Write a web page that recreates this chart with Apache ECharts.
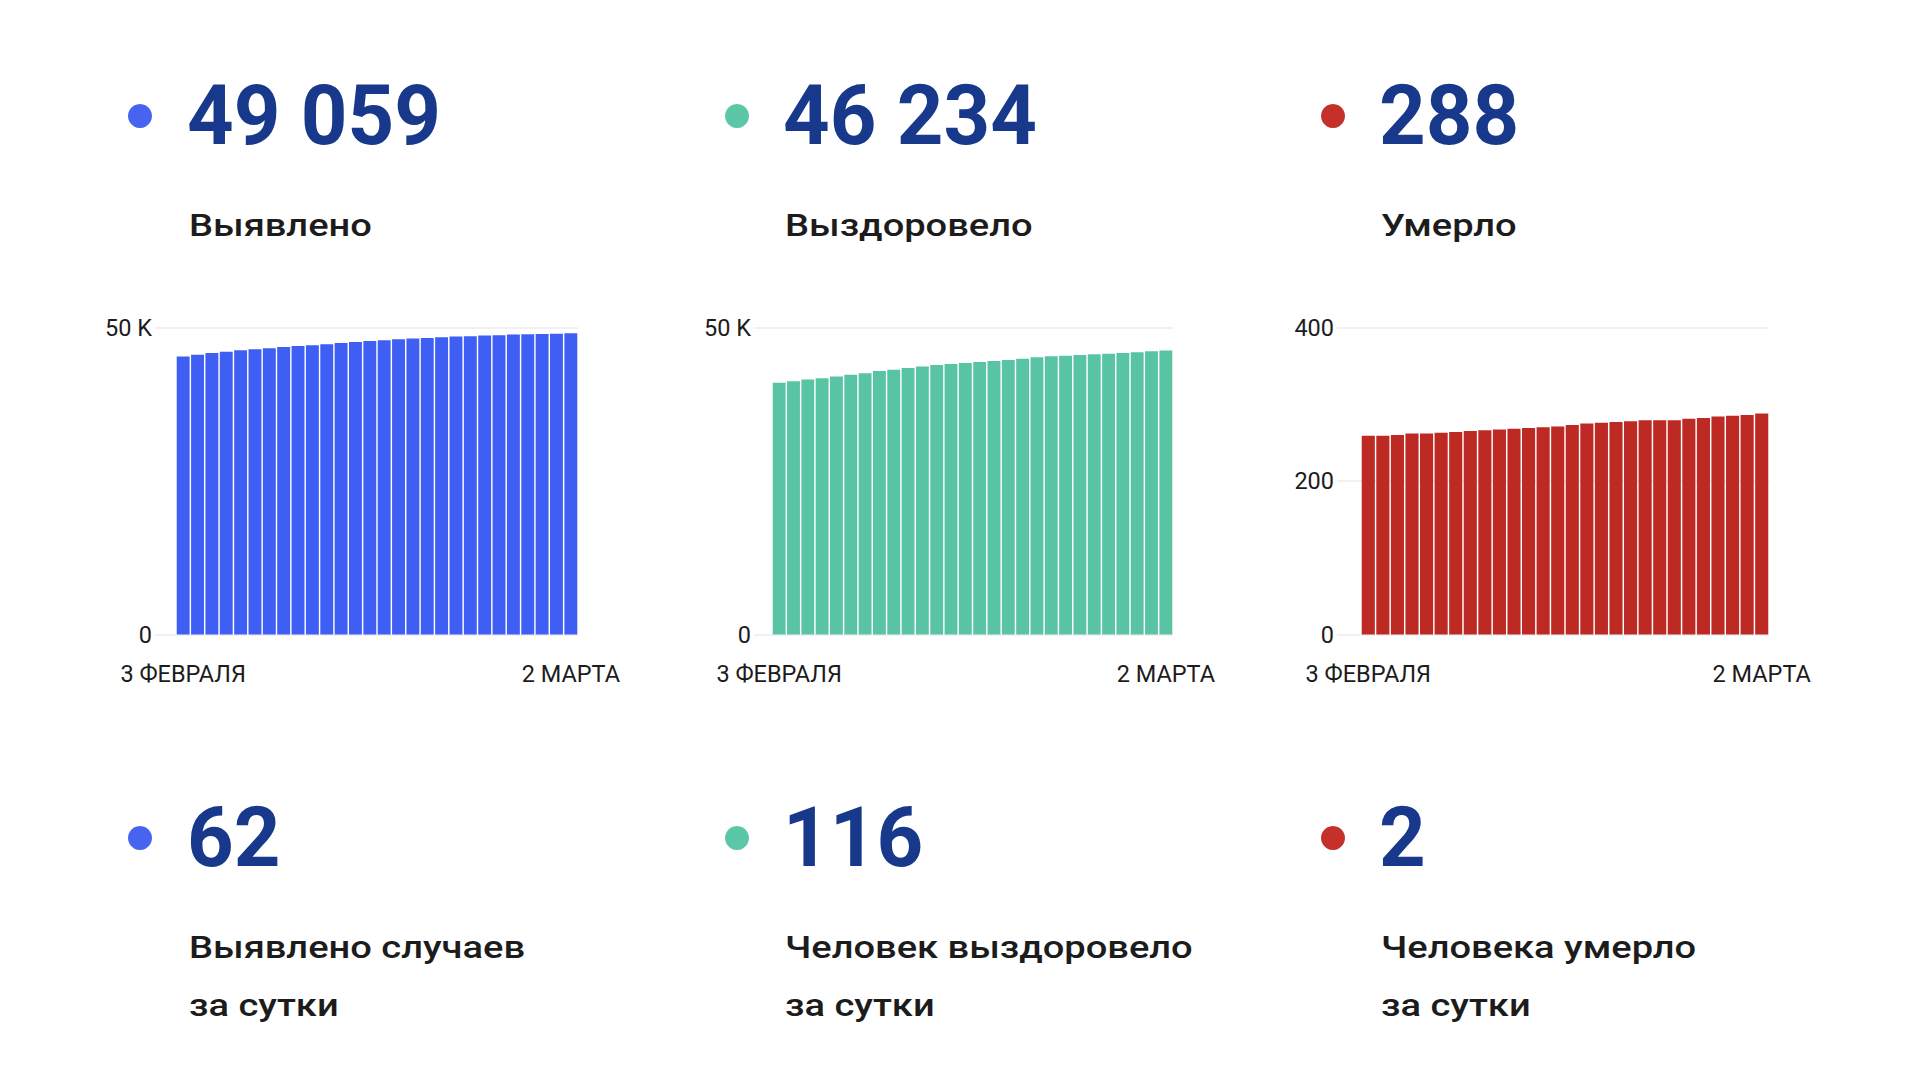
<!DOCTYPE html>
<html>
<head>
<meta charset="utf-8">
<script src="https://cdn.jsdelivr.net/npm/echarts@6/dist/echarts.min.js"></script>
<style>
html,body{margin:0;padding:0;background:#fff;}
#chart{width:1920px;height:1080px;}
</style>
</head>
<body>
<div id="chart"></div>
<script>
// ---- data ----
const categories = ['3 ФЕВРАЛЯ','4 ФЕВРАЛЯ','5 ФЕВРАЛЯ','6 ФЕВРАЛЯ','7 ФЕВРАЛЯ','8 ФЕВРАЛЯ','9 ФЕВРАЛЯ',
  '10 ФЕВРАЛЯ','11 ФЕВРАЛЯ','12 ФЕВРАЛЯ','13 ФЕВРАЛЯ','14 ФЕВРАЛЯ','15 ФЕВРАЛЯ','16 ФЕВРАЛЯ',
  '17 ФЕВРАЛЯ','18 ФЕВРАЛЯ','19 ФЕВРАЛЯ','20 ФЕВРАЛЯ','21 ФЕВРАЛЯ','22 ФЕВРАЛЯ','23 ФЕВРАЛЯ',
  '24 ФЕВРАЛЯ','25 ФЕВРАЛЯ','26 ФЕВРАЛЯ','27 ФЕВРАЛЯ','28 ФЕВРАЛЯ','1 МАРТА','2 МАРТА'];
const detected = [45294,45572,45850,46063,46276,46440,46603,46833,46996,47095,47258,47487,47651,47815,
  47913,48077,48191,48306,48404,48519,48568,48682,48732,48846,48895,48961,48997,49059];
const recovered = [40996,41258,41536,41749,42027,42305,42567,42895,43124,43386,43664,43877,44040,44204,
  44368,44532,44695,44924,45137,45301,45415,45514,45628,45743,45841,45956,46118,46234];
const deaths = [259,259,260,262,262,263,264,265,266,267,268,269,270,271,
  273,275,276,277,278,279,279,279,281,282,284,285,286,288];
const totals = [49059, 46234, 288];
const totalLabels = ['Выявлено', 'Выздоровело', 'Умерло'];
const daily = [62, 116, 2];
const dailyLabels = ['Выявлено случаев\nза сутки', 'Человек выздоровело\nза сутки', 'Человека умерло\nза сутки'];
const yMax = [50000, 50000, 400];
const yInterval = [50000, 50000, 200];
const yTickLabels = [{0:'0', 50000:'50 K'}, {0:'0', 50000:'50 K'}, {0:'0', 200:'200', 400:'400'}];

// ---- styles / layout ----
const barColors = ['#3f5ef3', '#58c4a3', '#bd2a24'];
const dotColors = ['#4764f0', '#5cc7a6', '#c5302a'];
const numColor = '#18388c';
const textColor = '#1c1c1c';
const FONT = 'Roboto, "Noto Sans", sans-serif';
const gridLineStart = [155, 754, 1337];
const barStart = [176, 772, 1361];
const barEnd = [578, 1173, 1769];
const dotX = [140, 737, 1333];
const textX = [191, 787, 1383];
const gridTop = 327.5, gridH = 307;

const seriesData = [detected, recovered, deaths];
const fmt = n => String(n).replace(/\B(?=(\d{3})+(?!\d))/g, ' ');

const grids = [], xAxes = [], yAxes = [], series = [], graphics = [];
for (let i = 0; i < 3; i++) {
  // axis grid (gridlines + y labels)
  grids.push({left: gridLineStart[i], top: gridTop, width: barEnd[i] - gridLineStart[i], height: gridH});
  // bar grid
  grids.push({left: barStart[i], top: gridTop, width: barEnd[i] - barStart[i], height: gridH});
  const ga = 2 * i, gb = 2 * i + 1;
  xAxes.push({gridIndex: ga, type: 'category', data: categories, show: false});
  xAxes.push({gridIndex: gb, type: 'category', data: categories,
    axisLine: {show: false}, axisTick: {show: false},
    axisLabel: {interval: (idx) => idx === 0 || idx === categories.length - 1,
      color: textColor, fontFamily: FONT, fontSize: 23.5, margin: 27, hideOverlap: false}});
  yAxes.push({gridIndex: ga, type: 'value', min: 0, max: yMax[i], interval: yInterval[i],
    axisLine: {show: false}, axisTick: {show: false},
    splitLine: {show: true, lineStyle: {color: '#ececec', width: 1.5}},
    axisLabel: {margin: 3, color: textColor, fontFamily: FONT, fontSize: 23.5,
      formatter: v => yTickLabels[i][v] !== undefined ? yTickLabels[i][v] : ''}});
  yAxes.push({gridIndex: gb, type: 'value', min: 0, max: yMax[i], interval: yInterval[i], show: false,
    splitLine: {show: false}});
  series.push({type: 'bar', xAxisIndex: gb, yAxisIndex: gb, data: seriesData[i],
    barCategoryGap: '10%', itemStyle: {color: barColors[i]}, silent: true});

  // header: dot + total + label
  graphics.push({type: 'circle', shape: {cx: dotX[i], cy: 116, r: 12}, style: {fill: dotColors[i]}});
  graphics.push({type: 'text', x: textX[i] - 4, y: 115, scaleX: 0.97, style: {text: fmt(totals[i]), fill: numColor,
    font: `700 84px ${FONT}`, verticalAlign: 'middle', align: 'left'}});
  graphics.push({type: 'text', x: textX[i] - 2, y: 225, scaleX: 1.19, style: {text: totalLabels[i], fill: textColor,
    font: `500 32px ${FONT}`, verticalAlign: 'middle', align: 'left'}});
  // footer: dot + daily + label
  graphics.push({type: 'circle', shape: {cx: dotX[i], cy: 838, r: 12}, style: {fill: dotColors[i]}});
  graphics.push({type: 'text', x: textX[i] - 4, y: 837, scaleX: 0.97, style: {text: fmt(daily[i]), fill: numColor,
    font: `700 84px ${FONT}`, verticalAlign: 'middle', align: 'left'}});
  graphics.push({type: 'text', x: textX[i] - 2, y: 976, scaleX: 1.19, style: {text: dailyLabels[i], fill: textColor,
    font: `500 32px ${FONT}`, lineHeight: 58, verticalAlign: 'middle', align: 'left'}});
}

const chart = echarts.init(document.getElementById('chart'), null, {renderer: 'svg'});
chart.setOption({
  animation: false,
  backgroundColor: '#ffffff',
  grid: grids,
  xAxis: xAxes,
  yAxis: yAxes,
  series: series,
  graphic: graphics
});
</script>
</body>
</html>
